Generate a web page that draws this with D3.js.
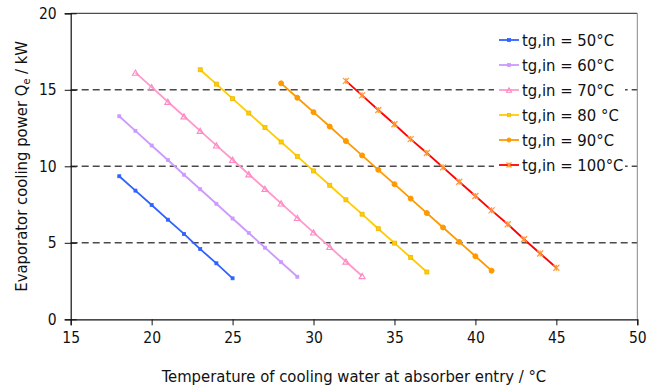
<!DOCTYPE html>
<html>
<head>
<meta charset="utf-8">
<script src="https://cdn.jsdelivr.net/npm/d3@7"></script>
<style>
  html, body { margin: 0; padding: 0; background: #fff; }
  svg text { font-family: "DejaVu Sans Condensed", "DejaVu Sans", sans-serif; font-stretch: condensed; fill: #111; }
</style>
</head>
<body>
<svg id="chart" width="647" height="391"></svg>
<script>
// Cooling-water inlet temperatures (°C) and evaporator power (kW), one pair per generator temperature
const t50 = [18, 19, 20, 21, 22, 23, 24, 25];
const q50 = [9.35, 8.41, 7.47, 6.51, 5.58, 4.59, 3.66, 2.68];
const t60 = [18, 19, 20, 21, 22, 23, 24, 25, 26, 27, 28, 29];
const q60 = [13.27, 12.32, 11.36, 10.41, 9.45, 8.50, 7.55, 6.59, 5.64, 4.68, 3.73, 2.78];
const t70 = [19, 20, 21, 22, 23, 24, 25, 26, 27, 28, 29, 30, 31, 32, 33];
const q70 = [16.12, 15.17, 14.22, 13.27, 12.32, 11.37, 10.43, 9.48, 8.53, 7.58, 6.63, 5.68, 4.73, 3.78, 2.83];
const t80 = [23, 24, 25, 26, 27, 28, 29, 30, 31, 32, 33, 34, 35, 36, 37];
const q80 = [16.31, 15.37, 14.42, 13.48, 12.53, 11.59, 10.65, 9.70, 8.76, 7.81, 6.87, 5.92, 4.98, 4.04, 3.09];
const t90 = [28, 29, 30, 31, 32, 33, 34, 35, 36, 37, 38, 39, 40, 41];
const q90 = [15.42, 14.48, 13.54, 12.60, 11.65, 10.71, 9.77, 8.83, 7.89, 6.94, 6.00, 5.06, 4.12, 3.18];
const t100 = [32, 33, 34, 35, 36, 37, 38, 39, 40, 41, 42, 43, 44, 45];
const q100 = [15.58, 14.64, 13.68, 12.75, 11.78, 10.87, 9.93, 8.99, 8.06, 7.12, 6.21, 5.23, 4.30, 3.37];

const seriesNames = ["tg,in = 50°C", "tg,in = 60°C", "tg,in = 70°C", "tg,in = 80 °C", "tg,in = 90°C", "tg,in = 100°C"];
const xTicks = [15, 20, 25, 30, 35, 40, 45, 50];
const yTicks = [0, 5, 10, 15, 20];
const gridValues = [5, 10, 15];

// Drawing styles per series
const styles = [
  { line: "#2f62ff", marker: "square",   mfill: "#2f62ff", mstroke: "#2f62ff", msize: 3 },
  { line: "#cc99ff", marker: "square",   mfill: "#cc99ff", mstroke: "#cc99ff", msize: 3 },
  { line: "#ff99cc", marker: "triangle", mfill: "none",    mstroke: "#ff88c4", msize: 6 },
  { line: "#ffcc00", marker: "square",   mfill: "#ffcc00", mstroke: "#f0b800", msize: 4 },
  { line: "#ff9900", marker: "circle",   mfill: "#ff9900", mstroke: "#ff9900", msize: 5 },
  { line: "#ff0000", marker: "star",     mfill: "none",    mstroke: "#ff9933", msize: 6 }
];

const series = [[t50, q50], [t60, q60], [t70, q70], [t80, q80], [t90, q90], [t100, q100]]
  .map(([t, q], i) => ({ name: seriesNames[i], style: styles[i], points: t.map((x, j) => ({ x, y: q[j] })) }));

const svg = d3.select("#chart");
const plot = { left: 70.7, right: 637.3, top: 13.3, bottom: 319.3 };

const x = d3.scaleLinear().domain([15, 50]).range([plot.left, plot.right]);
const y = d3.scaleLinear().domain([0, 20]).range([plot.bottom, plot.top]);

svg.append("rect").attr("width", 647).attr("height", 391).attr("fill", "#fff");

// Dashed horizontal gridlines
svg.append("g").selectAll("line").data(gridValues).join("line")
  .attr("x1", plot.left).attr("x2", plot.right)
  .attr("y1", d => y(d)).attr("y2", d => y(d))
  .attr("stroke", "#4a4a4a").attr("stroke-width", 1.5).attr("stroke-dasharray", "7,4");

// Plot frame (top and right)
svg.append("line").attr("x1", plot.left).attr("x2", plot.right)
  .attr("y1", plot.top).attr("y2", plot.top).attr("stroke", "#222").attr("stroke-width", 1);
svg.append("line").attr("x1", plot.right).attr("x2", plot.right)
  .attr("y1", plot.top).attr("y2", plot.bottom).attr("stroke", "#888").attr("stroke-width", 1);

// Axes
const tickFont = 15.5;
const titleFont = 16.5;
const xAxis = svg.append("g").attr("transform", `translate(0,${plot.bottom})`)
  .call(d3.axisBottom(x).tickValues(xTicks).tickSize(6).tickPadding(7).tickFormat(d3.format("d")));
const yAxis = svg.append("g").attr("transform", `translate(${plot.left},0)`)
  .call(d3.axisLeft(y).tickValues(yTicks).tickSize(6).tickPadding(8).tickFormat(d3.format("d")));
[xAxis, yAxis].forEach(g => {
  g.select(".domain").attr("stroke", "#111").attr("stroke-width", 1.2);
  g.selectAll(".tick line").attr("stroke", "#111").attr("stroke-width", 1);
  g.selectAll(".tick text").attr("font-size", tickFont).attr("font-family", null).style("fill", "#111");
});
// y ticks cross the axis
yAxis.selectAll(".tick line").attr("x1", 6);

// Axis titles
svg.append("text")
  .attr("x", (plot.left + plot.right) / 2).attr("y", 382)
  .attr("text-anchor", "middle").attr("font-size", titleFont)
  .text("Temperature of cooling water at absorber entry / °C");

const yTitle = svg.append("text")
  .attr("transform", `translate(27,${(plot.top + plot.bottom) / 2}) rotate(-90)`)
  .attr("text-anchor", "middle").attr("font-size", titleFont);
yTitle.append("tspan").text("Evaporator cooling power Q");
yTitle.append("tspan").attr("font-size", titleFont * 0.65).attr("dy", 3).text("e");
yTitle.append("tspan").attr("dy", -3).text(" / kW");

// Marker drawing
function drawMarker(sel, st) {
  const s = st.msize;
  if (st.marker === "square") {
    sel.append("rect").attr("x", -s / 2).attr("y", -s / 2).attr("width", s).attr("height", s)
      .attr("fill", st.mfill).attr("stroke", st.mstroke).attr("stroke-width", 0.8);
  } else if (st.marker === "circle") {
    sel.append("circle").attr("r", s / 2).attr("fill", st.mfill).attr("stroke", st.mstroke);
  } else if (st.marker === "triangle") {
    const h = s * 0.87;
    sel.append("path").attr("d", `M0,${-h / 2}L${s / 2},${h / 2}L${-s / 2},${h / 2}Z`)
      .attr("fill", st.mfill).attr("stroke", st.mstroke).attr("stroke-width", 1.1);
  } else if (st.marker === "star") {
    const r = s / 2;
    sel.append("path").attr("d", `M${-r},${-r}L${r},${r}M${-r},${r}L${r},${-r}M0,${-r}L0,${r}`)
      .attr("fill", "none").attr("stroke", st.mstroke).attr("stroke-width", 1.2);
  }
}

// Series lines and markers
const line = d3.line().x(d => x(d.x)).y(d => y(d.y));
series.forEach(s => {
  const g = svg.append("g");
  g.append("path").attr("d", line(s.points)).attr("fill", "none")
    .attr("stroke", s.style.line).attr("stroke-width", 1.8);
  g.selectAll("g.m").data(s.points).join("g").attr("class", "m")
    .attr("transform", d => `translate(${x(d.x)},${y(d.y)})`)
    .each(function () { drawMarker(d3.select(this), s.style); });
});

// Legend
const legend = svg.append("g");
legend.append("rect").attr("x", 494).attr("y", 28).attr("width", 131).attr("height", 150).attr("fill", "#fff");
series.forEach((s, i) => {
  const ly = 40 + i * 25;
  const g = legend.append("g").attr("transform", `translate(0,${ly})`);
  g.append("line").attr("x1", 499).attr("x2", 519).attr("y1", 0).attr("y2", 0)
    .attr("stroke", s.style.line).attr("stroke-width", 1.8);
  const m = g.append("g").attr("transform", "translate(509,0)");
  drawMarker(m, Object.assign({}, s.style, { msize: Math.max(3, s.style.msize - 1) }));
  g.append("text").attr("x", 522).attr("y", 6).attr("font-size", titleFont).text(s.name);
});
</script>
</body>
</html>
